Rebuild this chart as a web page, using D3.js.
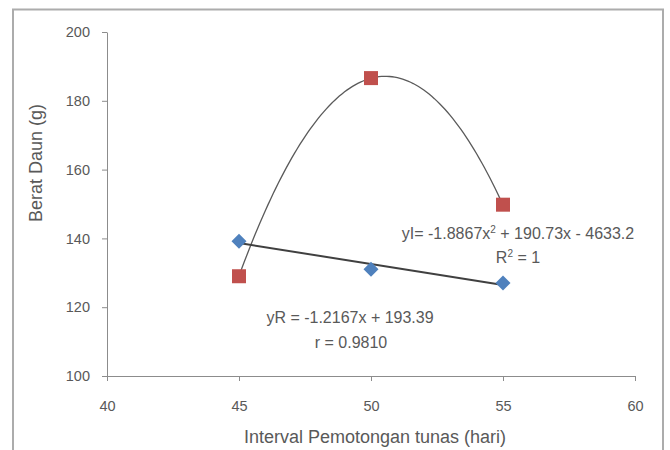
<!DOCTYPE html>
<html>
<head>
<meta charset="utf-8">
<script src="https://cdn.jsdelivr.net/npm/d3@7"></script>
<style>
    body { margin: 0; background: #fff; }
    svg text { font-family: "Liberation Sans", "DejaVu Sans", sans-serif; fill: #595959; }
</style>
</head>
<body>
<svg id="chart" width="670" height="450"></svg>
<script>
// data
const xValues = [45, 50, 55];
const yIValues = [129.0, 186.6, 149.8];   // red squares
const yRValues = [139.2, 131.0, 127.0];   // blue diamonds
const xTicks = [40, 45, 50, 55, 60];
const yTicks = [100, 120, 140, 160, 180, 200];

// trendline coefficients as printed on the chart
const quadCoef = [-1.8867, 190.73, -4633.2];
const linCoef = [-1.2167, 193.39];

const margin = { top: 32, right: 35, bottom: 74, left: 107 };
const width = 670, height = 450;

const svg = d3.select("#chart");

// outer frame
svg.append("rect")
    .attr("x", 13).attr("y", 9.5)
    .attr("width", 650).attr("height", 460)
    .attr("fill", "none")
    .attr("stroke", "#acacac")
    .attr("stroke-width", 2);

const x = d3.scaleLinear().domain([40, 60]).range([margin.left, width - margin.right]);
const y = d3.scaleLinear().domain([100, 200]).range([height - margin.bottom, margin.top]);

const xAxis = svg.append("g")
    .attr("transform", `translate(0, ${y(100)})`)
    .call(d3.axisBottom(x).tickValues(xTicks).tickSize(5).tickSizeOuter(0).tickPadding(20));

const yAxis = svg.append("g")
    .attr("transform", `translate(${x(40)}, 0)`)
    .call(d3.axisLeft(y).tickValues(yTicks).tickSize(5).tickSizeOuter(0).tickPadding(12));

[xAxis, yAxis].forEach(a => {
    a.select(".domain").attr("stroke", "#8c8c8c");
    a.selectAll(".tick line").attr("stroke", "#8c8c8c");
    a.selectAll(".tick text").style("font-size", "14.5px").attr("fill", "#595959");
});

// trendlines
const quadPts = d3.range(45, 55.001, 0.1).map(v => [v, quadCoef[0] * v * v + quadCoef[1] * v + quadCoef[2]]);
const linPts = [45, 55].map(v => [v, linCoef[0] * v + linCoef[1]]);
const line = d3.line().x(d => x(d[0])).y(d => y(d[1]));

svg.append("path")
    .attr("d", line(quadPts))
    .attr("fill", "none")
    .attr("stroke", "#5a5a5a")
    .attr("stroke-width", 1.3);

svg.append("path")
    .attr("d", line(linPts))
    .attr("fill", "none")
    .attr("stroke", "#404040")
    .attr("stroke-width", 2);

// markers
const sq = 14;
svg.append("g").selectAll("rect")
    .data(xValues.map((v, i) => [v, yIValues[i]]))
    .join("rect")
    .attr("x", d => x(d[0]) - sq / 2)
    .attr("y", d => y(d[1]) - sq / 2)
    .attr("width", sq).attr("height", sq)
    .attr("fill", "#C0504D");

const dm = 7.5;
svg.append("g").selectAll("path")
    .data(xValues.map((v, i) => [v, yRValues[i]]))
    .join("path")
    .attr("d", d => {
        const cx = x(d[0]), cy = y(d[1]);
        return `M${cx},${cy - dm}L${cx + dm},${cy}L${cx},${cy + dm}L${cx - dm},${cy}Z`;
    })
    .attr("fill", "#4F81BD");

// equations
const eq = svg.append("g").attr("text-anchor", "middle").style("font-size", "16px");
eq.append("text").attr("x", 518).attr("y", 239)
    .html('yI= -1.8867x<tspan dy="-6" font-size="10px">2</tspan><tspan dy="6"> + 190.73x - 4633.2</tspan>');
eq.append("text").attr("x", 518).attr("y", 263)
    .html('R<tspan dy="-6" font-size="10px">2</tspan><tspan dy="6"> = 1</tspan>');
eq.append("text").attr("x", 350).attr("y", 323).text("yR = -1.2167x + 193.39");
eq.append("text").attr("x", 351).attr("y", 348).text("r = 0.9810");

// axis titles
svg.append("text")
    .attr("x", 375).attr("y", 443)
    .attr("text-anchor", "middle")
    .style("font-size", "18px")
    .text("Interval Pemotongan tunas (hari)");

svg.append("text")
    .attr("transform", "translate(42, 163) rotate(-90)")
    .attr("text-anchor", "middle")
    .style("font-size", "18px")
    .text("Berat Daun (g)");
</script>
</body>
</html>
